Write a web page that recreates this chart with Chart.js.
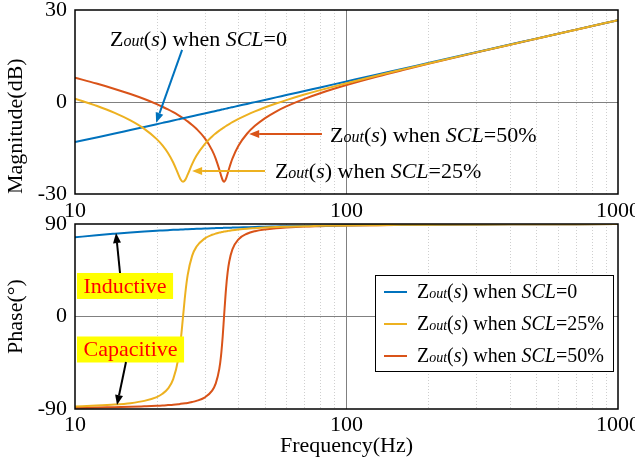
<!DOCTYPE html>
<html>
<head>
<meta charset="utf-8">
<script src="https://cdn.jsdelivr.net/npm/chart.js@4.4.1/dist/chart.umd.min.js"></script>
<style>
  html, body { margin: 0; padding: 0; background: #fff; }
  #wrap { position: relative; width: 635px; height: 459px; overflow: hidden; background: #fff; }
  canvas { position: absolute; left: 0; }
  #magCanvas { top: 0; }
  #phaseCanvas { top: 215px; }
</style>
</head>
<body>
<div id="wrap">
  <canvas id="magCanvas" width="635" height="230"></canvas>
  <canvas id="phaseCanvas" width="635" height="244"></canvas>
</div>
<script>
// frequency points (Hz), denser around the two resonances
const freqHz = [10, 12, 14, 16, 18, 20, 21, 22, 23, 24, 24.5, 25, 25.5, 26, 27, 28, 30, 32, 33, 34,
  34.5, 35, 35.4, 36, 36.5, 37, 38, 40, 43, 46, 50, 55, 60, 70, 80, 100, 130, 160, 200, 300, 400, 500, 700, 1000];

// magnitude (dB)
const magScl0 = [-13.08, -11.56, -10.27, -9.13, -8.13, -7.23, -6.81, -6.41, -6.03, -5.66, -5.48, -5.31, -5.14, -4.97, -4.65, -4.33, -3.74, -3.18, -2.91, -2.66,
  -2.53, -2.41, -2.31, -2.16, -2.04, -1.92, -1.69, -1.25, -0.62, -0.04, 0.68, 1.51, 2.26, 3.60, 4.76, 6.70, 8.98, 10.78, 12.72, 16.24, 18.74, 20.67, 23.60, 26.69];
const magScl25 = [1.11, -1.23, -3.55, -6.00, -8.75, -12.10, -14.16, -16.63, -19.72, -23.51, -25.26, -26.02, -25.30, -23.68, -20.26, -17.56, -13.80, -11.24, -10.23, -9.34,
  -8.93, -8.55, -8.25, -7.83, -7.50, -7.18, -6.59, -5.53, -4.19, -3.07, -1.81, -0.50, 0.61, 2.42, 3.87, 6.14, 8.65, 10.56, 12.58, 16.18, 18.70, 20.65, 23.59, 26.69];
const magScl50 = [7.93, 6.01, 4.26, 2.59, 0.96, -0.69, -1.54, -2.41, -3.32, -4.27, -4.76, -5.27, -5.79, -6.33, -7.48, -8.74, -11.72, -15.77, -18.52, -22.00,
  -23.92, -25.52, -26.02, -25.00, -23.29, -21.50, -18.45, -14.25, -10.35, -7.78, -5.33, -3.12, -1.44, 1.04, 2.87, 5.53, 8.31, 10.34, 12.44, 16.12, 18.67, 20.63, 23.57, 26.68];

// phase (deg)
const phaseScl0 = [77.0, 79.1, 80.6, 81.8, 82.7, 83.4, 83.7, 84.0, 84.3, 84.5, 84.6, 84.7, 84.8, 84.9, 85.1, 85.3, 85.6, 85.9, 86.0, 86.1,
  86.2, 86.2, 86.3, 86.3, 86.4, 86.4, 86.5, 86.7, 86.9, 87.1, 87.4, 87.6, 87.8, 88.1, 88.3, 88.7, 89.0, 89.2, 89.3, 89.6, 89.7, 89.7, 89.8, 89.9];
const phaseScl25 = [-87.5, -86.7, -85.7, -84.3, -82.1, -78.4, -75.2, -70.2, -61.0, -41.5, -23.7, -0.1, 23.1, 40.2, 59.0, 67.8, 75.8, 79.5, 80.7, 81.6,
  82.0, 82.3, 82.6, 82.9, 83.2, 83.4, 83.9, 84.6, 85.4, 85.9, 86.5, 87.0, 87.3, 87.8, 88.2, 88.6, 88.9, 89.2, 89.3, 89.6, 89.7, 89.7, 89.8, 89.9];
const phaseScl50 = [-88.9, -88.6, -88.2, -87.9, -87.4, -86.9, -86.6, -86.2, -85.8, -85.3, -85.0, -84.7, -84.4, -84.1, -83.2, -82.1, -78.9, -72.1, -65.1, -51.0,
  -38.3, -19.2, 0.0, 27.2, 43.1, 53.5, 65.3, 75.1, 80.5, 83.0, 84.7, 85.9, 86.6, 87.5, 87.9, 88.5, 88.9, 89.1, 89.3, 89.6, 89.7, 89.7, 89.8, 89.9];

const xTicks = [10, 100, 1000];
const magTicks = [-30, 0, 30];
const phaseTicks = [-90, 0, 90];
const sclLabels = ['0', '25%', '50%'];
const sclColors = ['#0072BD', '#EDB120', '#D95319'];

// callouts, in data coordinates [Hz, value]
const magNotes = [
  { scl: '0', at: [13.45, 18.3], color: '#0072BD', from: [24.8, 17.0], to: [19.9, -6.8] },
  { scl: '50%', at: [87, -13.0], color: '#D95319', from: [81.2, -10.4], to: [43.8, -10.4] },
  { scl: '25%', at: [54.5, -24.8], color: '#EDB120', from: [50.1, -22.5], to: [27.0, -22.5] }
];
const phaseNotes = [
  { text: 'Inductive', at: [10.17, 29.7], from: [14.65, 42.3], to: [14.16, 81.2] },
  { text: 'Capacitive', at: [10.17, -32.1], from: [15.41, -44.3], to: [14.28, -86.1] }
];

const SERIF = '"Liberation Serif", "Times New Roman", serif';
Chart.defaults.font.family = SERIF;
Chart.defaults.color = '#000';

const pts = (ys) => freqHz.map((f, i) => ({ x: f, y: ys[i] }));

function drawZout(ctx, x, y, scl, size) {
  const parts = [['Z', ''], ['out', 'italic', 0.72], ['(', ''], ['s', 'italic'], [') when ', ''], ['SCL', 'italic'], ['=' + scl, '']];
  ctx.textBaseline = 'alphabetic';
  ctx.textAlign = 'left';
  for (const [t, style, k] of parts) {
    ctx.font = `${style} ${Math.round(size * (k || 1))}px ${SERIF}`;
    ctx.fillText(t, x, y);
    x += ctx.measureText(t).width;
  }
}

function arrow(ctx, x1, y1, x2, y2, color) {
  const a = Math.atan2(y2 - y1, x2 - x1), len = 10, w = 4;
  const bx = x2 - len * Math.cos(a), by = y2 - len * Math.sin(a);
  ctx.strokeStyle = color;
  ctx.fillStyle = color;
  ctx.lineWidth = 2;
  ctx.setLineDash([]);
  ctx.beginPath();
  ctx.moveTo(x1, y1);
  ctx.lineTo(bx, by);
  ctx.stroke();
  ctx.beginPath();
  ctx.moveTo(x2, y2);
  ctx.lineTo(bx + w * Math.sin(a), by - w * Math.cos(a));
  ctx.lineTo(bx - w * Math.sin(a), by + w * Math.cos(a));
  ctx.closePath();
  ctx.fill();
}

function drawMagNotes(chart) {
  const { ctx, scales: { x, y } } = chart;
  magNotes.forEach(n => {
    arrow(ctx, x.getPixelForValue(n.from[0]), y.getPixelForValue(n.from[1]),
      x.getPixelForValue(n.to[0]), y.getPixelForValue(n.to[1]), n.color);
    ctx.fillStyle = '#000';
    drawZout(ctx, x.getPixelForValue(n.at[0]), y.getPixelForValue(n.at[1]), n.scl, 22);
  });
}

function drawPhaseNotes(chart) {
  const { ctx, chartArea: a, scales: { x, y } } = chart;
  phaseNotes.forEach(n => {
    ctx.font = `22px ${SERIF}`;
    const w = ctx.measureText(n.text).width + 13;
    const bx = x.getPixelForValue(n.at[0]), cy = y.getPixelForValue(n.at[1]);
    ctx.fillStyle = '#ffff00';
    ctx.fillRect(bx, cy - 13, w, 26);
    ctx.fillStyle = '#ff0000';
    ctx.textAlign = 'center';
    ctx.textBaseline = 'middle';
    ctx.fillText(n.text, bx + w / 2, cy + 1);
    arrow(ctx, x.getPixelForValue(n.from[0]), y.getPixelForValue(n.from[1]),
      x.getPixelForValue(n.to[0]), y.getPixelForValue(n.to[1]), '#000');
  });

  // legend box
  const lx = a.left + 300, ly = a.top + 51, lw = 238, lh = 96;
  ctx.fillStyle = '#fff';
  ctx.fillRect(lx, ly, lw, lh);
  ctx.strokeStyle = '#000';
  ctx.lineWidth = 1;
  ctx.strokeRect(lx + 0.5, ly + 0.5, lw, lh);
  sclLabels.forEach((s, i) => {
    const base = ly + 23 + i * 32;
    ctx.strokeStyle = sclColors[i];
    ctx.lineWidth = 2;
    ctx.beginPath();
    ctx.moveTo(lx + 9, base - 6);
    ctx.lineTo(lx + 32, base - 6);
    ctx.stroke();
    ctx.fillStyle = '#000';
    drawZout(ctx, lx + 42, base, s, 20);
  });
}

function framePlugin(drawNotes) {
  return {
    id: 'frame',
    beforeDatasetsDraw(chart) {
      const { ctx, chartArea: a, scales: { x } } = chart;
      ctx.save();
      ctx.strokeStyle = '#cfcfcf';
      ctx.lineWidth = 1;
      ctx.setLineDash([1, 2]);
      for (const dec of [10, 100]) {
        for (let m = 2; m <= 9; m++) {
          const px = Math.round(x.getPixelForValue(m * dec)) + 0.5;
          ctx.beginPath();
          ctx.moveTo(px, a.top);
          ctx.lineTo(px, a.bottom);
          ctx.stroke();
        }
      }
      ctx.restore();
    },
    afterDraw(chart) {
      const { ctx, chartArea: a } = chart;
      ctx.save();
      ctx.strokeStyle = '#000';
      ctx.lineWidth = 1.5;
      ctx.strokeRect(a.left, a.top, a.right - a.left, a.bottom - a.top);
      drawNotes(chart);
      ctx.restore();
    }
  };
}

function makeChart(id, series, yTicks, yTitle, yAlign, xTitle, padTop, xHeight, xPad) {
  const order = [1, 0, 2]; // yellow on top, then blue, then red
  return new Chart(document.getElementById(id), {
    type: 'line',
    data: {
      datasets: series.map((ys, i) => ({
        label: 'SCL=' + sclLabels[i],
        data: pts(ys),
        borderColor: sclColors[i],
        borderWidth: 2,
        pointRadius: 0,
        cubicInterpolationMode: 'monotone',
        fill: false,
        order: i === 1 ? 0 : (i === 0 ? 1 : 2)
      }))
    },
    options: {
      responsive: false,
      animation: false,
      devicePixelRatio: 1,
      layout: { padding: { left: 0, right: 17, top: padTop, bottom: 0 } },
      plugins: { legend: { display: false }, tooltip: { enabled: false } },
      scales: {
        x: {
          type: 'logarithmic',
          min: 10,
          max: 1000,
          afterBuildTicks: s => { s.ticks = xTicks.map(v => ({ value: v })); },
          afterFit: s => { s.height = xHeight; s.paddingLeft = 0; s.paddingRight = 0; },
          ticks: { font: { size: 22 }, padding: xPad, maxRotation: 0, autoSkip: false, callback: v => String(v) },
          grid: { drawTicks: false, color: c => (c.tick && c.tick.value === 100 ? '#808080' : 'rgba(0,0,0,0)') },
          border: { display: false },
          title: { display: !!xTitle, text: xTitle || '', font: { size: 22 }, padding: { top: 0, bottom: 0 } }
        },
        y: {
          min: yTicks[0],
          max: yTicks[yTicks.length - 1],
          afterBuildTicks: s => { s.ticks = yTicks.map(v => ({ value: v })); },
          afterFit: s => { s.width = 75; s.paddingTop = 0; s.paddingBottom = 0; },
          ticks: { font: { size: 22 }, padding: 8 },
          grid: { drawTicks: false, color: c => (c.tick && c.tick.value === 0 ? '#808080' : 'rgba(0,0,0,0)') },
          border: { display: false },
          title: { display: true, text: yTitle, align: yAlign, font: { size: 22 }, padding: { top: 3, bottom: 0 } }
        }
      }
    },
    plugins: [framePlugin(id === 'magCanvas' ? drawMagNotes : drawPhaseNotes)]
  });
}

makeChart('magCanvas', [magScl0, magScl25, magScl50], magTicks, 'Magnitude(dB)', 'start', null, 10, 36, 4);
makeChart('phaseCanvas', [phaseScl0, phaseScl25, phaseScl50], phaseTicks, 'Phase(°)', 'center', 'Frequency(Hz)', 9, 50, 3);
</script>
</body>
</html>
